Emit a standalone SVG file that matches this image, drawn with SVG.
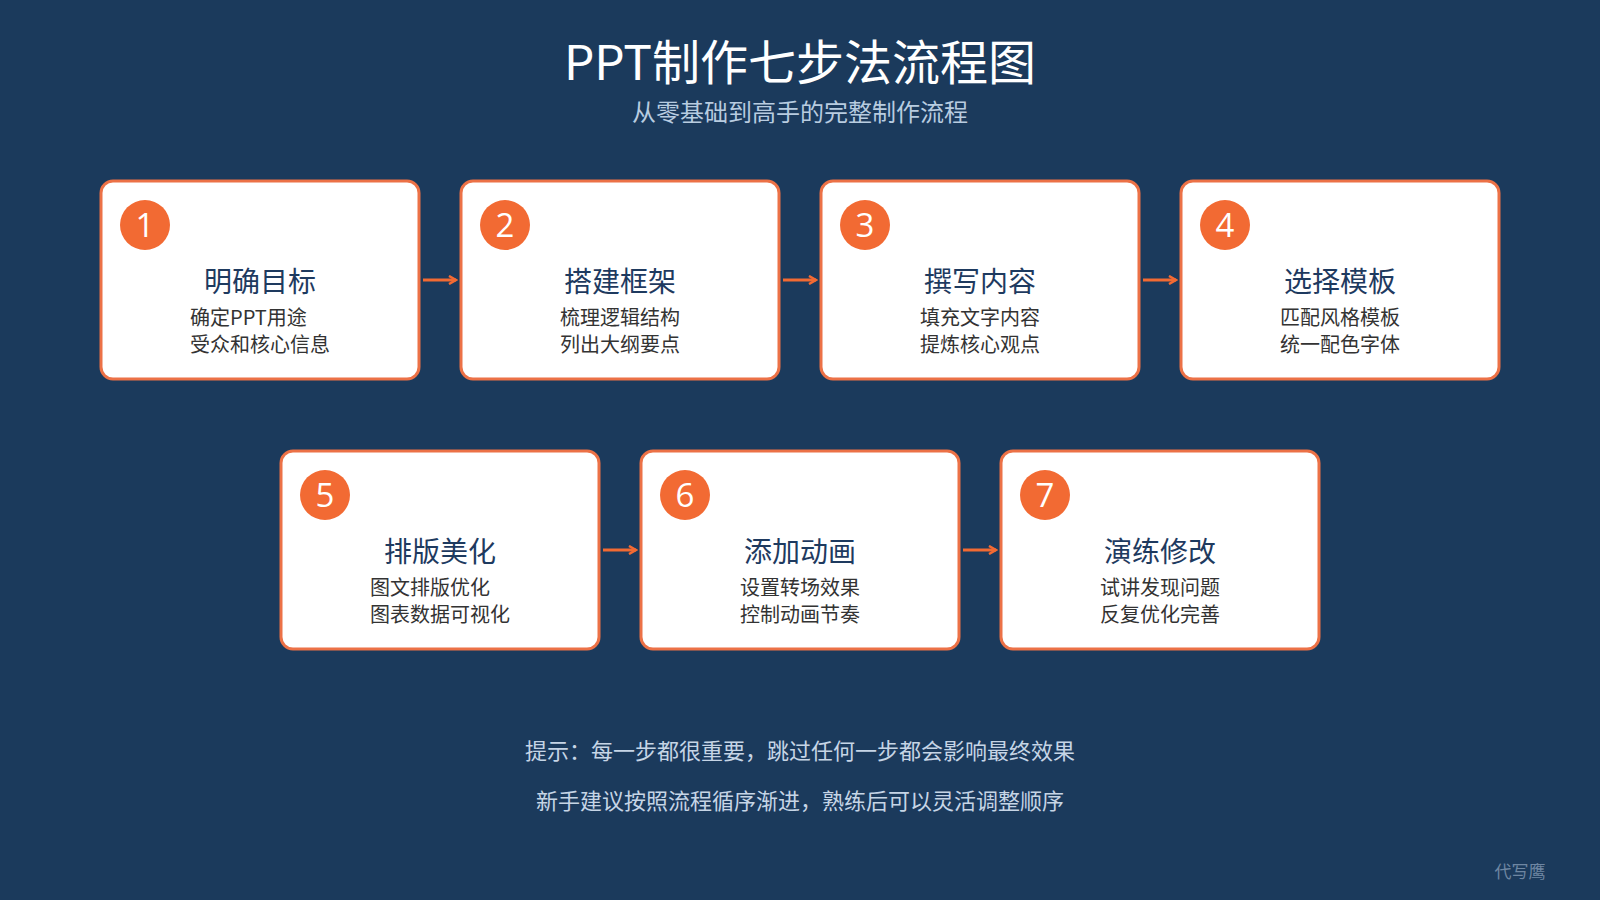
<svg xmlns="http://www.w3.org/2000/svg" width="1600" height="900" viewBox="0 0 1600 900">
<defs>
<style>
.bg{fill:#1b3a5c}
.card{fill:#ffffff;stroke:#ec7146;stroke-width:3}
.num-c{fill:#f26a33}
.num{font-family:"Open Sans","Liberation Sans",sans-serif;font-size:33px;fill:#ffffff;text-anchor:middle}
.ttl{font-family:"Noto Sans CJK SC",sans-serif;font-size:28px;fill:#1e3a5f;text-anchor:middle}
.desc{font-family:"Noto Sans CJK SC",sans-serif;font-size:20px;fill:#333333}
.conn{stroke:#f26a33;stroke-width:3;fill:none}
.h1{font-family:"Noto Sans CJK SC",sans-serif;font-size:48px;fill:#ffffff;text-anchor:middle}
.h2{font-family:"Noto Sans CJK SC",sans-serif;font-size:24px;fill:#b8cce0;text-anchor:middle}
.tip{font-family:"Noto Sans CJK SC",sans-serif;font-size:22px;fill:#c6d5e6;text-anchor:middle}
.wm{font-family:"Noto Sans CJK SC",sans-serif;font-size:17px;fill:#6e86a2;text-anchor:middle}
</style>
<marker id="ah" markerWidth="10" markerHeight="10" refX="8" refY="5" orient="auto" markerUnits="userSpaceOnUse">
<path d="M1,1 L8,5 L1,9" fill="none" stroke="#f26a33" stroke-width="2.5"/>
</marker>
</defs>
<rect class="bg" x="0" y="0" width="1600" height="900"/>
<text class="h1" x="800" y="80">PPT制作七步法流程图</text>
<text class="h2" x="800" y="121">从零基础到高手的完整制作流程</text>

<g id="connectors">
<line class="conn" x1="423" y1="280" x2="456" y2="280" marker-end="url(#ah)"/>
<line class="conn" x1="783" y1="280" x2="816" y2="280" marker-end="url(#ah)"/>
<line class="conn" x1="1143" y1="280" x2="1176" y2="280" marker-end="url(#ah)"/>
<line class="conn" x1="603" y1="550" x2="636" y2="550" marker-end="url(#ah)"/>
<line class="conn" x1="963" y1="550" x2="996" y2="550" marker-end="url(#ah)"/>
</g>

<g id="step1">
<rect class="card" x="101" y="181" width="318" height="198" rx="12"/>
<circle class="num-c" cx="145" cy="225" r="25"/>
<text class="num" x="145" y="237">1</text>
<text class="ttl" x="260" y="292">明确目标</text>
<text class="desc" x="190" y="325">确定PPT用途</text>
<text class="desc" x="190" y="352">受众和核心信息</text>
</g>
<g id="step2">
<rect class="card" x="461" y="181" width="318" height="198" rx="12"/>
<circle class="num-c" cx="505" cy="225" r="25"/>
<text class="num" x="505" y="237">2</text>
<text class="ttl" x="620" y="292">搭建框架</text>
<text class="desc" x="560" y="325">梳理逻辑结构</text>
<text class="desc" x="560" y="352">列出大纲要点</text>
</g>
<g id="step3">
<rect class="card" x="821" y="181" width="318" height="198" rx="12"/>
<circle class="num-c" cx="865" cy="225" r="25"/>
<text class="num" x="865" y="237">3</text>
<text class="ttl" x="980" y="292">撰写内容</text>
<text class="desc" x="920" y="325">填充文字内容</text>
<text class="desc" x="920" y="352">提炼核心观点</text>
</g>
<g id="step4">
<rect class="card" x="1181" y="181" width="318" height="198" rx="12"/>
<circle class="num-c" cx="1225" cy="225" r="25"/>
<text class="num" x="1225" y="237">4</text>
<text class="ttl" x="1340" y="292">选择模板</text>
<text class="desc" x="1280" y="325">匹配风格模板</text>
<text class="desc" x="1280" y="352">统一配色字体</text>
</g>
<g id="step5">
<rect class="card" x="281" y="451" width="318" height="198" rx="12"/>
<circle class="num-c" cx="325" cy="495" r="25"/>
<text class="num" x="325" y="507">5</text>
<text class="ttl" x="440" y="562">排版美化</text>
<text class="desc" x="370" y="595">图文排版优化</text>
<text class="desc" x="370" y="622">图表数据可视化</text>
</g>
<g id="step6">
<rect class="card" x="641" y="451" width="318" height="198" rx="12"/>
<circle class="num-c" cx="685" cy="495" r="25"/>
<text class="num" x="685" y="507">6</text>
<text class="ttl" x="800" y="562">添加动画</text>
<text class="desc" x="740" y="595">设置转场效果</text>
<text class="desc" x="740" y="622">控制动画节奏</text>
</g>
<g id="step7">
<rect class="card" x="1001" y="451" width="318" height="198" rx="12"/>
<circle class="num-c" cx="1045" cy="495" r="25"/>
<text class="num" x="1045" y="507">7</text>
<text class="ttl" x="1160" y="562">演练修改</text>
<text class="desc" x="1100" y="595">试讲发现问题</text>
<text class="desc" x="1100" y="622">反复优化完善</text>
</g>

<text class="tip" x="800" y="759">提示：每一步都很重要，跳过任何一步都会影响最终效果</text>
<text class="tip" x="800" y="809">新手建议按照流程循序渐进，熟练后可以灵活调整顺序</text>
<text class="wm" x="1520" y="878">代写鹰</text>
</svg>
